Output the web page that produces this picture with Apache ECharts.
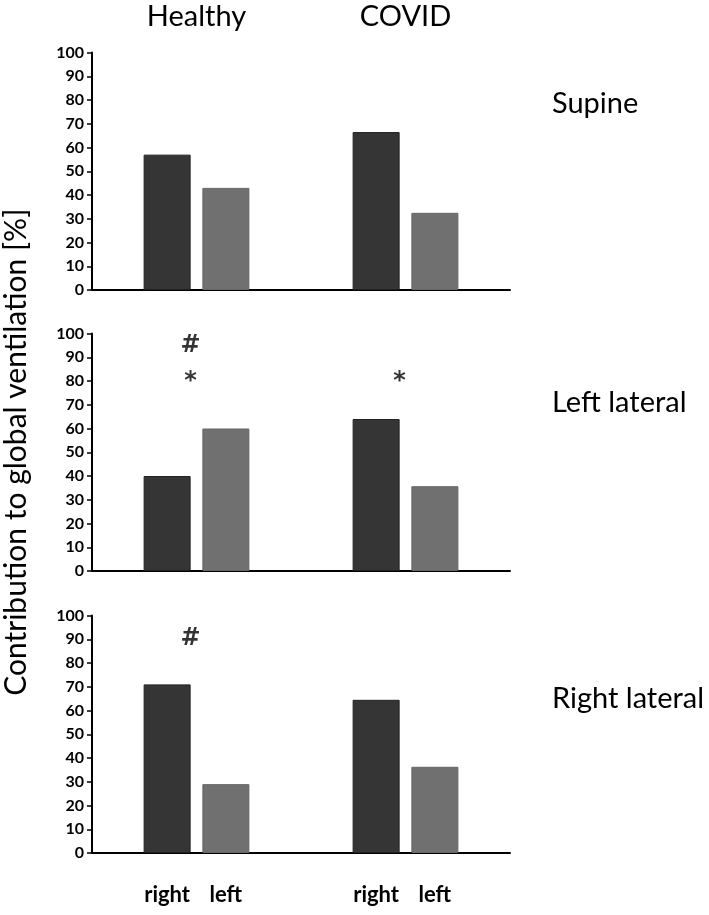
<!DOCTYPE html>
<html>
<head>
<meta charset="utf-8">
<script src="https://cdn.jsdelivr.net/npm/echarts@6/dist/echarts.min.js"></script>
<style>html,body{margin:0;padding:0;background:#fff;}#chart{width:709px;height:915px;}</style>
</head>
<body>
<div id="chart"></div>
<script>
// ---- data ----
const groups = ['Healthy', 'COVID'];
const positions = ['Supine', 'Left lateral', 'Right lateral'];
const sideNames = ['right', 'left'];
const supineRight = [57, 66.5];
const supineLeft = [43, 32.5];
const leftLateralRight = [40, 64];
const leftLateralLeft = [60, 35.7];
const rightLateralRight = [71, 64.5];
const rightLateralLeft = [29, 36.3];
const yMin = 0, yMax = 100, yStep = 10;
const yTitle = 'Contribution to global ventilation [%]';
// significance markers: panel index, group, y value, symbol
const markerPanel = [1, 1, 1, 2];
const markerGroup = ['Healthy', 'Healthy', 'COVID', 'Healthy'];
const markerY = [95, 79.5, 79.5, 90];
const markerText = ['#', '*', '*', '#'];

const panelRight = [supineRight, leftLateralRight, rightLateralRight];
const panelLeft = [supineLeft, leftLateralLeft, rightLateralLeft];

const FONT = 'Lato';
const gridTops = [52.5, 333.5, 615.5];
const gridH = 237.5;

const grids = gridTops.map(t => ({left: 92, width: 418, top: t, height: gridH, outerBoundsMode: 'none', containLabel: false}));
const xAxes = gridTops.map((t, i) => ({
  type: 'category', gridIndex: i, data: groups,
  axisLine: {lineStyle: {color: '#000', width: 2}},
  axisTick: {show: false}, axisLabel: {show: false}
}));
xAxes.push({
  type: 'category', gridIndex: 0, data: groups, position: 'top',
  axisLine: {show: false}, axisTick: {show: false},
  axisLabel: {color: '#000', fontSize: 29, fontFamily: FONT, margin: 21}
});
const yAxes = gridTops.map((t, i) => ({
  type: 'value', gridIndex: i, min: yMin, max: yMax, interval: yStep,
  axisLine: {show: true, lineStyle: {color: '#000', width: 2}},
  axisTick: {show: true, length: 5, lineStyle: {color: '#000', width: 1.5}},
  splitLine: {show: false},
  axisLabel: {color: '#000', fontSize: 16, fontFamily: FONT, fontWeight: 'bold', margin: 8},
  name: i === 1 ? yTitle : '', nameLocation: 'middle', nameGap: 61, nameRotate: 90,
  nameTextStyle: {color: '#000', fontSize: 30, fontFamily: FONT}
}));

const series = [];
positions.forEach((p, i) => {
  const bottom = i === positions.length - 1;
  [panelRight[i], panelLeft[i]].forEach((vals, k) => {
    series.push({
      type: 'bar', name: sideNames[k], xAxisIndex: i, yAxisIndex: i,
      data: vals, barWidth: 47, barGap: '25%',
      itemStyle: {color: k === 0 ? '#353535' : '#707070', borderColor: k === 0 ? '#222' : '#666', borderWidth: 1},
      label: {show: bottom, position: 'insideBottom', distance: 0, offset: [0, 53],
        formatter: sideNames[k], color: '#000', fontSize: 22, fontFamily: FONT, fontWeight: 'bold'},
      silent: true
    });
  });
});
positions.forEach((p, i) => {
  const pts = [];
  markerPanel.forEach((mp, j) => { if (mp === i) pts.push({value: [markerGroup[j], markerY[j]], txt: markerText[j]}); });
  if (pts.length) {
    series.push({
      type: 'scatter', xAxisIndex: i, yAxisIndex: i, symbolSize: 1,
      itemStyle: {color: 'rgba(0,0,0,0)'},
      data: pts.map(d => ({value: d.value, label: {formatter: d.txt}})),
      label: {show: true, position: 'inside', offset: [-6, 0], color: '#000', fontSize: 24, fontWeight: 'bold', fontFamily: 'DejaVu Sans'},
      silent: true
    });
  }
});

const titleTops = [84, 383, 679];
const titles = positions.map((p, i) => ({
  text: p, left: 547, top: titleTops[i],
  textStyle: {color: '#000', fontSize: 29, fontWeight: 'normal', fontFamily: FONT}
}));

const chart = echarts.init(document.getElementById('chart'), null, {renderer: 'canvas'});
chart.setOption({
  animation: false,
  backgroundColor: '#fff',
  title: titles,
  grid: grids,
  xAxis: xAxes,
  yAxis: yAxes,
  series: series
});
</script>
</body>
</html>
